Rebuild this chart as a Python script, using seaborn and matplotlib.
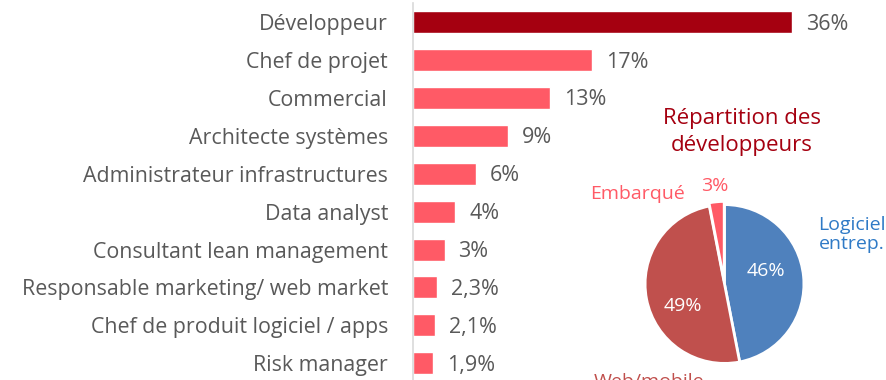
import pandas as pd
import seaborn as sns
import matplotlib.pyplot as plt

# job roles and share (%)
roles = ['Développeur', 'Chef de projet', 'Commercial', 'Architecte systèmes',
         'Administrateur infrastructures', 'Data analyst', 'Consultant lean management',
         'Responsable marketing/ web market', 'Chef de produit logiciel / apps', 'Risk manager']
shares = [36, 17, 13, 9, 6, 4, 3, 2.3, 2.1, 1.9]
share_labels = ['36%', '17%', '13%', '9%', '6%', '4%', '3%', '2,3%', '2,1%', '1,9%']

# pie: developer split
dev_types = ['Logiciel\nentrep.', 'Web/mobile', 'Embarqué']
dev_shares = [46, 49, 3]
dev_labels = ['46%', '49%', '3%']

df = pd.DataFrame({'role': roles, 'share': shares})
df['top'] = ['a'] + ['b'] * (len(roles) - 1)

sns.set_theme(style='white')
plt.rcParams['font.family'] = ['Open Sans', 'DejaVu Sans']

grey = '#595959'
fig = plt.figure(figsize=(8.87, 3.8), dpi=100)
ax = fig.add_axes([413 / 887, -0.006, 474 / 887, 0.998])

sns.barplot(data=df, y='role', x='share', hue='top', palette={'a': '#A50010', 'b': '#FF5A66'},
            dodge=False, legend=False, width=0.58, orient='h', saturation=1, ax=ax)
ax.set_xlim(0, 45)
ax.set_xlabel('')
ax.set_ylabel('')
ax.set_xticks([])
ax.tick_params(axis='y', length=0, pad=18, labelsize=15.4, labelcolor=grey)
for s in ['top', 'right', 'bottom']:
    ax.spines[s].set_visible(False)
ax.spines['left'].set_color('#D9D9D9')
ax.spines['left'].set_linewidth(1.2)

for cont in ax.containers:
    for bar in cont:
        i = int(round(bar.get_y() + bar.get_height() / 2))
        ax.annotate(share_labels[i], (bar.get_width(), i), xytext=(10, -1.5),
                    textcoords='offset points', va='center', ha='left',
                    fontsize=15.5, color=grey)

# pie chart inset
pax = fig.add_axes([643.5 / 887, 15 / 380, 162 / 887, 162 / 380])
pax.pie(dev_shares, colors=['#4F81BD', '#C0504D', '#FF5A66'], startangle=90,
        counterclock=False, explode=[0, 0, 0.04],
        wedgeprops=dict(edgecolor='white', linewidth=2))
pax.set_xlim(-1.02, 1.02)
pax.set_ylim(-1.02, 1.02)
pax.text(0.52, 0.17, dev_labels[0], color='white', fontsize=14, ha='center', va='center')
pax.text(-0.53, -0.28, dev_labels[1], color='white', fontsize=14, ha='center', va='center')
pax.text(-0.12, 1.23, dev_labels[2], color='#FF5A66', fontsize=14, ha='center', va='center')
pax.text(-1.1, 1.13, dev_types[2], color='#FF5A66', fontsize=14, ha='center', va='center')
pax.text(1.6, 0.62, dev_types[0], color='#2F7AC6', fontsize=14, ha='center', va='center',
         linespacing=1.05)
pax.text(-0.95, -1.12, dev_types[1], color='#C0504D', fontsize=14, ha='center', va='top')

fig.text(742 / 887, 1 - 132 / 380, 'Répartition des\ndéveloppeurs', color='#A50010',
         fontsize=16, ha='center', va='center', linespacing=1.35)

fig.savefig('out.png', dpi=100)
